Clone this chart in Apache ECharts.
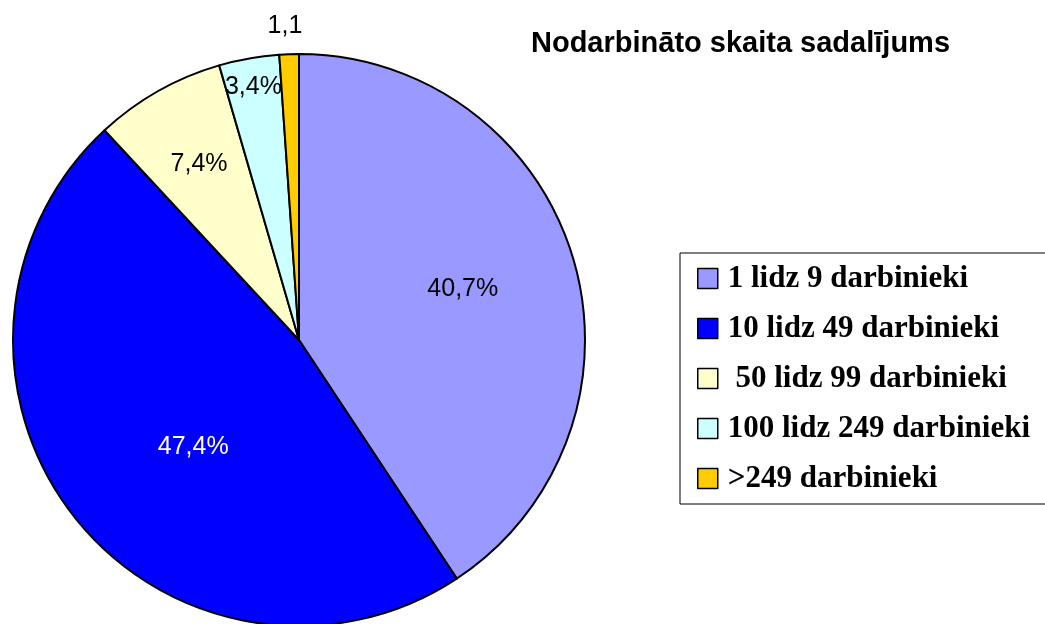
<!DOCTYPE html>
<html lang="lv">
<head>
    <meta charset="utf-8">
    <title>Nodarbināto skaita sadalījums</title>
    <script src="https://cdn.jsdelivr.net/npm/echarts@6/dist/echarts.min.js"></script>
    <style>
        html, body { height: 100%; margin: 0; background: #fff; }
    </style>
</head>
<body>
    <div id="main" style="width:1045px;height:624px;"></div>
    <script type="text/javascript">
        // dati no attēla
        var categories = ['1 lidz 9 darbinieki', '10 lidz 49 darbinieki', ' 50 lidz 99 darbinieki', '100 lidz 249 darbinieki', '>249 darbinieki'];
        var shares = [40.7, 47.4, 7.4, 3.4, 1.1];
        var colors = ['#9999FF', '#0000FF', '#FFFFCC', '#CCFFFF', '#FFCC00'];
        var labelColors = ['#000', '#fff', '#000', '#000', '#000'];
        // etiķešu nobīde no noklusētās vietas (px)
        var labelOffsets = [[24, -9], [9, 17], [-28, -49], [-20, -109], [-9, -168]];

        var myChart = echarts.init(document.getElementById('main'));

        var pieData = [];
        for (var i = 0; i < categories.length; i++) {
            pieData.push({
                name: categories[i],
                value: shares[i],
                itemStyle: { color: colors[i] },
                label: { color: labelColors[i], offset: labelOffsets[i] }
            });
        }

        var option = {
            animation: false,
            backgroundColor: '#fff',
            title: {
                text: 'Nodarbināto skaita sadalījums',
                left: 526,
                top: 24,
                textStyle: {
                    fontFamily: 'Liberation Sans, Arial, sans-serif',
                    fontWeight: 'bold',
                    fontSize: 29,
                    color: '#000'
                }
            },
            legend: {
                orient: 'vertical',
                left: 680,
                top: 253,
                padding: [10, 19, 10, 17],
                borderColor: '#000',
                borderWidth: 1,
                itemWidth: 20,
                itemHeight: 20,
                itemGap: 19,
                icon: 'rect',
                itemStyle: { borderColor: '#000', borderWidth: 1.5 },
                textStyle: {
                    fontFamily: 'Liberation Serif, Times New Roman, serif',
                    fontWeight: 'bold',
                    fontSize: 31,
                    lineHeight: 31,
                    color: '#000',
                    padding: [0, 0, 0, 5]
                },
                data: categories
            },
            series: [
                {
                    type: 'pie',
                    center: [299, 340],
                    radius: 286,
                    startAngle: 90,
                    clockwise: true,
                    itemStyle: { borderColor: '#000', borderWidth: 2 },
                    label: {
                        show: true,
                        position: 'inside',
                        fontFamily: 'Liberation Sans, Arial, sans-serif',
                        fontSize: 25,
                        formatter: function (p) {
                            var s = p.value.toFixed(1).replace('.', ',');
                            return p.dataIndex === shares.length - 1 ? s : s + '%';
                        }
                    },
                    labelLine: { show: false },
                    emphasis: { disabled: true },
                    data: pieData
                }
            ]
        };

        myChart.setOption(option);
    </script>
</body>
</html>
